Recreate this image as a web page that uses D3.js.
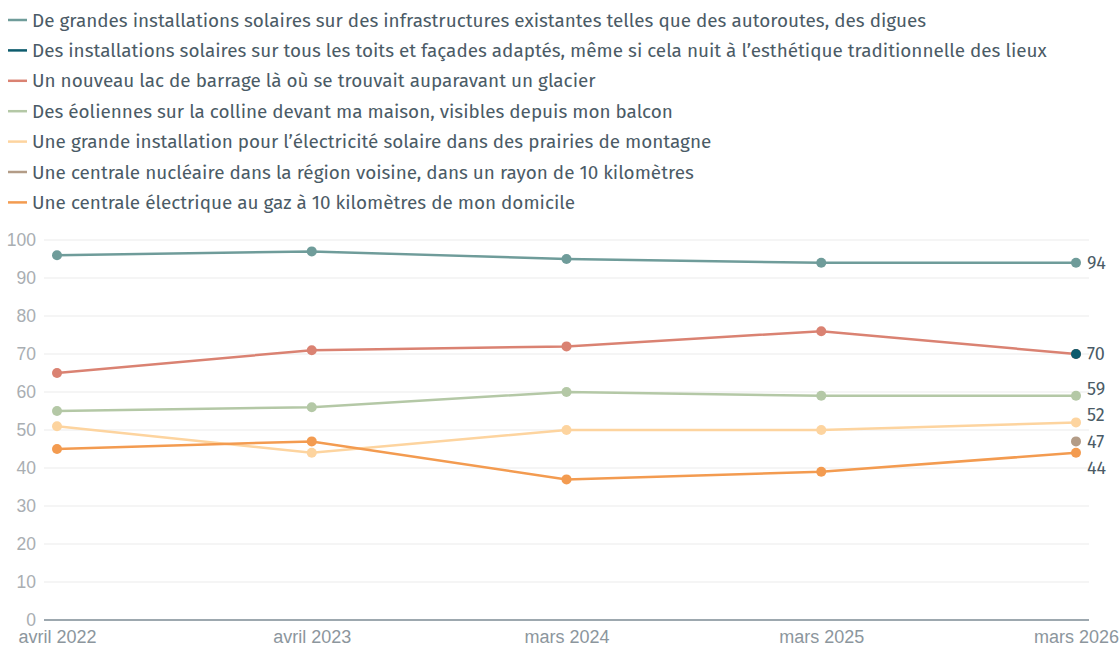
<!DOCTYPE html>
<html><head><meta charset="utf-8">
<script src="https://cdn.jsdelivr.net/npm/d3@7"></script>
<style>
body{margin:0;background:#fff;}
svg{display:block;font-family:"Fira Sans","Lato","Noto Sans",sans-serif;}
</style></head>
<body><svg id="c" width="1120" height="646"></svg>
<script>
const categories = ["avril 2022","avril 2023","mars 2024","mars 2025","mars 2026"];
const seriesNames = [
 "De grandes installations solaires sur des infrastructures existantes telles que des autoroutes, des digues",
 "Des installations solaires sur tous les toits et façades adaptés, même si cela nuit à l’esthétique traditionnelle des lieux",
 "Un nouveau lac de barrage là où se trouvait auparavant un glacier",
 "Des éoliennes sur la colline devant ma maison, visibles depuis mon balcon",
 "Une grande installation pour l’électricité solaire dans des prairies de montagne",
 "Une centrale nucléaire dans la région voisine, dans un rayon de 10 kilomètres",
 "Une centrale électrique au gaz à 10 kilomètres de mon domicile"
];
const s1 = [96, 97, 95, 94, 94];
const s2 = [null, null, null, null, 70];
const s3 = [65, 71, 72, 76, 70];
const s4 = [55, 56, 60, 59, 59];
const s5 = [51, 44, 50, 50, 52];
const s6 = [null, null, null, null, 47];
const s7 = [45, 47, 37, 39, 44];
const yTicks = [0,10,20,30,40,50,60,70,80,90,100];
const colors = ["#6f9c9a","#0d5b6d","#da8272","#b4c8a6","#fdd49f","#b39c87","#f39b50"];

const seriesValues = [s1,s2,s3,s4,s5,s6,s7];
const series = seriesNames.map((n,i)=>({name:n,values:seriesValues[i],color:colors[i]}));

const svg = d3.select("#c");
const x = d3.scalePoint().domain(categories).range([57,1076]);
const y = d3.scaleLinear().domain([0,100]).range([620,240]);
const gridL = 44, gridR = 1089;
const textCol = "#4b5b66";

// legend
const leg = svg.append("g");
series.forEach((s,i)=>{
  const ly = 20 + i*30.4;
  leg.append("line").attr("x1",8).attr("x2",27).attr("y1",ly).attr("y2",ly)
    .attr("stroke",s.color).attr("stroke-width",2.5);
  leg.append("text").attr("x",32).attr("y",ly).attr("dy","0.35em")
    .attr("font-size",18.9).attr("fill",textCol).text(s.name);
});

// grid
const g = svg.append("g");
g.selectAll("line.grid").data(yTicks.filter(d=>d>0)).join("line")
  .attr("x1",gridL).attr("x2",gridR).attr("y1",d=>y(d)).attr("y2",d=>y(d))
  .attr("stroke","#ebebeb").attr("stroke-width",1);
g.append("line").attr("x1",gridL).attr("x2",gridR).attr("y1",y(0)).attr("y2",y(0))
  .attr("stroke","#7c8b94").attr("stroke-width",1.5);

// y axis
const yAxis = svg.append("g").attr("transform",`translate(36,0)`)
  .call(d3.axisLeft(y).tickValues(yTicks).tickSize(0).tickPadding(0));
yAxis.select(".domain").remove();
yAxis.selectAll("text").attr("font-size",17.5).attr("fill","#a9aeb2").attr("font-family",null);

// x axis
const xAxis = svg.append("g").attr("transform",`translate(0,${y(0)})`)
  .call(d3.axisBottom(x).tickSize(0).tickPadding(10));
xAxis.select(".domain").remove();
xAxis.selectAll("text").attr("font-size",18).attr("fill","#8c969d").attr("font-family",null);

// lines
const line = d3.line().defined(d=>d.v!=null).x(d=>x(d.c)).y(d=>y(d.v));
const order = [0,2,3,4,6,1,5];
order.forEach(i=>{
  const s = series[i];
  const pts = s.values.map((v,j)=>({c:categories[j],v}));
  svg.append("path").datum(pts).attr("d",line).attr("fill","none")
    .attr("stroke",s.color).attr("stroke-width",2.5);
  svg.append("g").selectAll("circle").data(pts.filter(p=>p.v!=null)).join("circle")
    .attr("cx",p=>x(p.c)).attr("cy",p=>y(p.v)).attr("r",5).attr("fill",s.color);
});

// end labels with collision avoidance
const last = categories[categories.length-1];
const seen = new Set();
let labels = [];
series.forEach(s=>{
  const v = s.values[s.values.length-1];
  if(v==null || seen.has(v)) return;
  seen.add(v);
  labels.push({v, y:y(v)});
});
labels.sort((a,b)=>a.y-b.y);
const gap = 26.5;
for(let it=0; it<200; it++){
  let moved=false;
  for(let k=1;k<labels.length;k++){
    const d = labels[k].y - labels[k-1].y;
    if(d<gap){
      const m=(gap-d)/2;
      labels[k-1].y-=m; labels[k].y+=m; moved=true;
    }
  }
  if(!moved) break;
}
svg.append("g").selectAll("text").data(labels).join("text")
  .attr("x",x(last)+11).attr("y",d=>d.y).attr("dy","0.35em")
  .attr("font-size",18).attr("fill",textCol).text(d=>d.v);
</script></body></html>
